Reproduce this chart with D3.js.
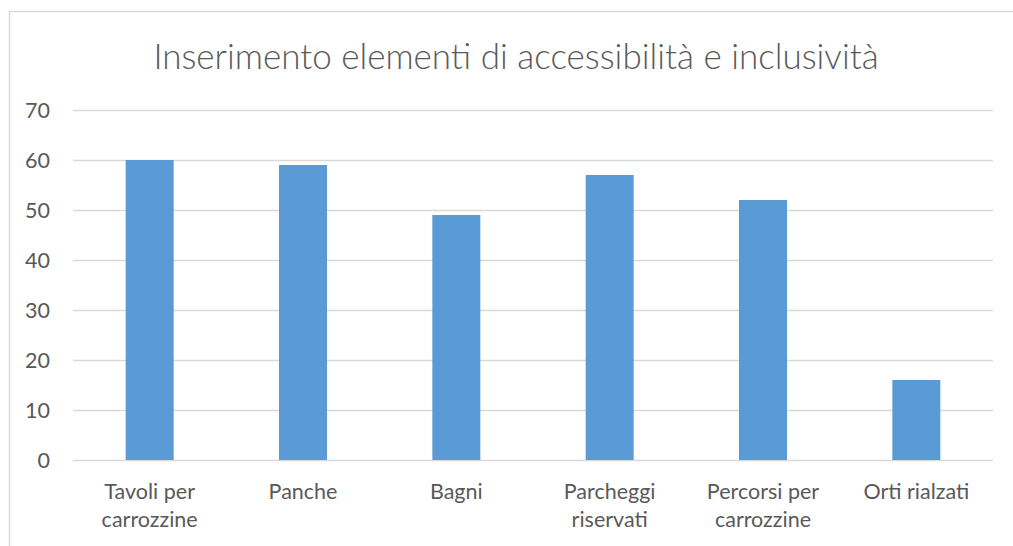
<!DOCTYPE html>
<html>
<head>
<meta charset="utf-8">
<script src="https://cdn.jsdelivr.net/npm/d3@7"></script>
<style>
  body { margin: 0; background: #fff; }
  svg text { font-family: Lato, "Open Sans", sans-serif; fill: #595959; }
</style>
</head>
<body>
<svg id="chart" width="1013" height="546"></svg>
<script>
// data
const categories = [
  ["Tavoli per", "carrozzine"],
  ["Panche"],
  ["Bagni"],
  ["Parcheggi", "riservati"],
  ["Percorsi per", "carrozzine"],
  ["Orti rialzati"]
];
const values = [60, 59, 49, 57, 52, 16];
const yTicks = [0, 10, 20, 30, 40, 50, 60, 70];
const title = "Inserimento elementi di accessibilità e inclusività";

const plot = { left: 73, right: 993, top: 110, bottom: 460 };

const svg = d3.select("#chart");

// chart frame (only top and left edges show in the picture)
svg.append("path")
  .attr("d", "M9.5,546 V11.5 H1013")
  .attr("fill", "none")
  .attr("stroke", "#d9d9d9")
  .attr("stroke-width", 1.5);

const x = d3.scaleBand()
  .domain(d3.range(categories.length))
  .range([plot.left, plot.right])
  .paddingInner(0.687)
  .paddingOuter(0.687 / 2);

const y = d3.scaleLinear()
  .domain([0, 70])
  .range([plot.bottom, plot.top]);

// gridlines
svg.append("g")
  .selectAll("line")
  .data(yTicks)
  .join("line")
  .attr("x1", plot.left)
  .attr("x2", plot.right)
  .attr("y1", d => y(d) + 0.5)
  .attr("y2", d => y(d) + 0.5)
  .attr("stroke", "#d9d9d9")
  .attr("stroke-width", 1.5);

// bars
svg.append("g")
  .selectAll("rect")
  .data(values)
  .join("rect")
  .attr("x", (d, i) => x(i))
  .attr("width", x.bandwidth())
  .attr("y", d => y(d))
  .attr("height", d => y(0) - y(d))
  .attr("fill", "#5b9bd5");

// y tick labels
svg.append("g")
  .selectAll("text")
  .data(yTicks)
  .join("text")
  .attr("x", 50)
  .attr("y", d => y(d) + 7.5)
  .attr("text-anchor", "end")
  .attr("font-size", 21.5)
  .text(d => d);

// x labels
const xl = svg.append("g")
  .selectAll("text")
  .data(categories)
  .join("text")
  .attr("text-anchor", "middle")
  .attr("font-size", 21.5)
  .attr("x", (d, i) => x(i) + x.bandwidth() / 2)
  .attr("y", 499);

xl.selectAll("tspan")
  .data(d => d)
  .join("tspan")
  .attr("x", function () { return d3.select(this.parentNode).attr("x"); })
  .attr("dy", (d, i) => i === 0 ? 0 : 28)
  .text(d => d);

// title
svg.append("text")
  .attr("x", 516)
  .attr("y", 69)
  .attr("text-anchor", "middle")
  .attr("font-size", 35)
  .attr("font-weight", 300)
  .text(title);
</script>
</body>
</html>
